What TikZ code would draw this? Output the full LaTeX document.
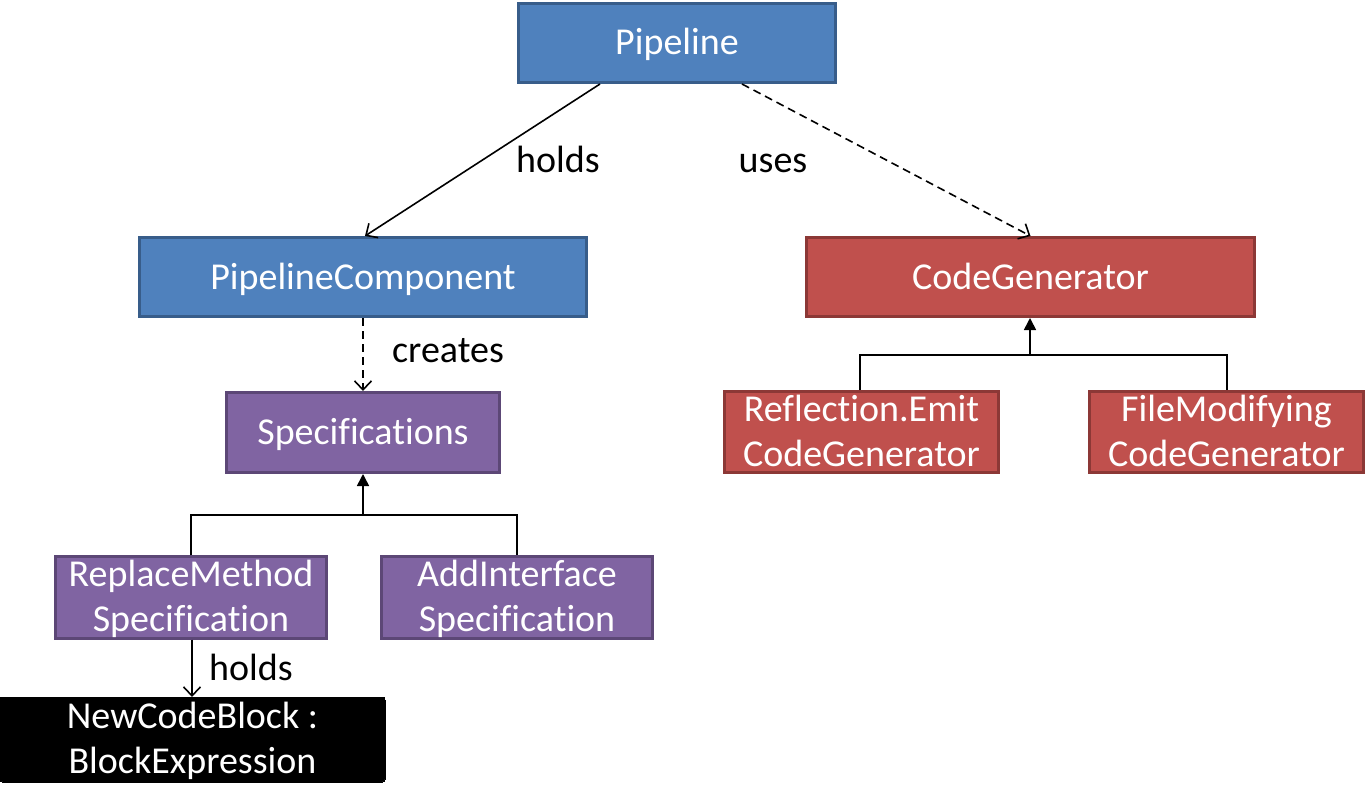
\documentclass[tikz,border=0pt]{standalone}
\usepackage{fontspec}
\setmainfont{Carlito}[Ligatures={NoCommon,NoRequired,NoContextual}]
\usetikzlibrary{arrows.meta}
\definecolor{bfill}{HTML}{4F81BD}\definecolor{bdraw}{HTML}{385D8A}
\definecolor{rfill}{HTML}{C0504D}\definecolor{rdraw}{HTML}{8C3836}
\definecolor{pfill}{HTML}{8064A2}\definecolor{pdraw}{HTML}{5C4776}
\newcommand{\lnstrut}{\rule[-6pt]{0pt}{36pt}}
\begin{document}
\begin{tikzpicture}[x=1pt,y=-1pt,
  every node/.style={font=\fontsize{38}{45}\selectfont},
  box/.style={rectangle,line width=3pt,text=white,align=center,inner sep=0pt},
  one/.style={text height=30pt,text depth=6pt},
  bluebox/.style={box,fill=bfill,draw=bdraw},
  redbox/.style={box,fill=rfill,draw=rdraw},
  purplebox/.style={box,fill=pfill,draw=pdraw},
  blackbox/.style={box,fill=black,draw=black,rounded corners=3pt,line width=0pt},
  conn/.style={line width=1.6pt,draw=black},
  openarr/.style={conn,-{Straight Barb[length=9pt,width=17pt,line width=1.6pt]}},
  inharr/.style={conn,-{Triangle[length=12pt,width=12pt]}},
  dashconn/.style={openarr,dash pattern=on 8pt off 5pt},
  lbl/.style={text=black,inner sep=0pt,one}
]
\useasboundingbox (0,0) rectangle (1369,808);
\node[bluebox,one,minimum width=317pt,minimum height=79pt] (pl) at (677,43) {Pipeline};
\node[bluebox,one,minimum width=447pt,minimum height=79pt] (pc) at (363,277) {PipelineComponent};
\node[redbox,one,minimum width=448pt,minimum height=79pt] (cg) at (1030.5,277) {CodeGenerator};
\node[purplebox,one,minimum width=273pt,minimum height=80pt] (sp) at (363,432.5) {Specifications};
\node[purplebox,minimum width=271pt,minimum height=80pt] (rm) at (191,597.5) {\lnstrut ReplaceMethod\\\lnstrut Specification};
\node[purplebox,minimum width=271pt,minimum height=80pt] (ai) at (517,597.5) {\lnstrut AddInterface\\\lnstrut Specification};
\node[redbox,minimum width=274pt,minimum height=81pt] (re) at (861.5,432) {\lnstrut Reflection.Emit\\\lnstrut CodeGenerator};
\node[redbox,minimum width=274pt,minimum height=81pt] (fm) at (1226.5,432) {\lnstrut FileModifying\\\lnstrut CodeGenerator};
\node[blackbox,minimum width=385pt,minimum height=85pt] (nb) at (192.5,739.5) {\lnstrut NewCodeBlock :\\\lnstrut BlockExpression};

\draw[openarr] ([xshift=-77pt]pl.south) -- ([xshift=2pt]pc.north);
\draw[dashconn] ([xshift=65pt]pl.south) -- (cg.north);
\draw[dashconn] (pc.south) -- (sp.north);
\draw[openarr] ([xshift=1pt]rm.south) -- ([xshift=-0.5pt]nb.north);

\coordinate (sj) at (363,515);
\draw[conn] (rm.north) |- (sj) -| (ai.north);
\draw[inharr] (sj) -- (sp.south);
\coordinate (cj) at (1030,355);
\draw[conn] ([xshift=-1.5pt]re.north) |- (cj) -| ([xshift=0.5pt]fm.north);
\draw[inharr] (cj) -- ([xshift=-0.5pt]cg.south);

\node[lbl] (l1) at (558,160) {holds};
\node[lbl] (l2) at (773,160) {uses};
\node[lbl] (l3) at (448,350) {creates};
\node[lbl] (l4) at (251,668) {holds};
\end{tikzpicture}
\end{document}
